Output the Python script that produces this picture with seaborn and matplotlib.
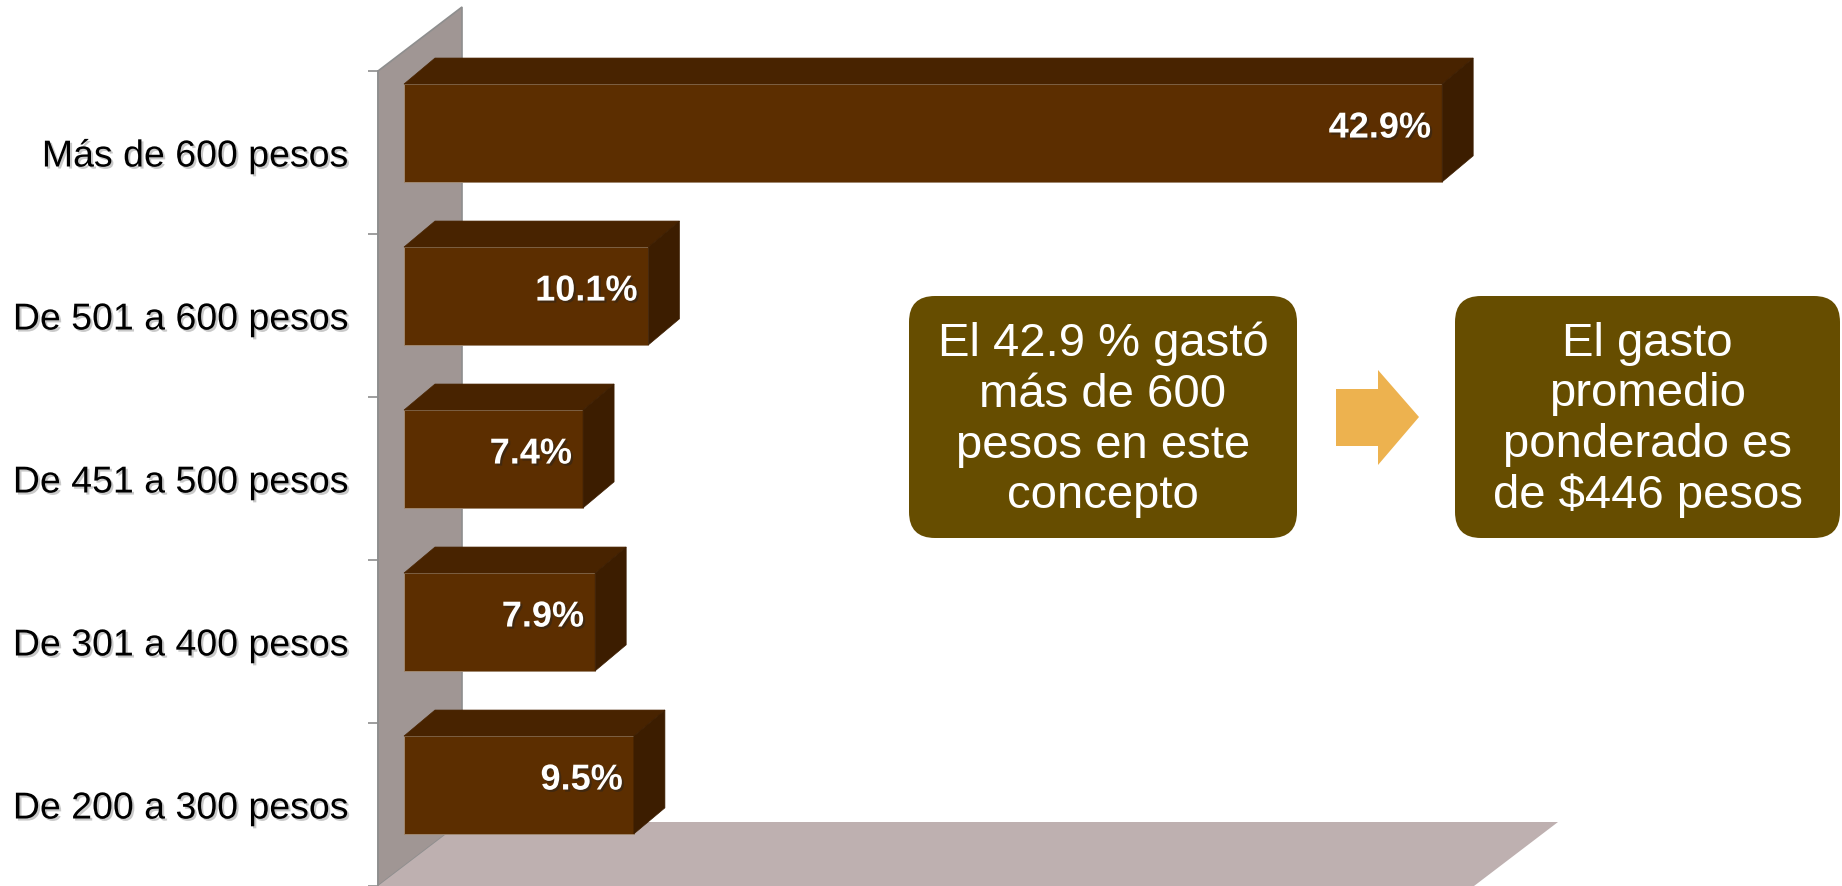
"""Gasto en este concepto: distribución por rango (barras 3D estilo Excel)."""
import matplotlib

matplotlib.use("Agg")
import matplotlib.patheffects as pe
import matplotlib.pyplot as plt
import numpy as np
import seaborn as sns
from matplotlib.patches import FancyBboxPatch, Polygon

categories = [
    "Más de 600 pesos",
    "De 501 a 600 pesos",
    "De 451 a 500 pesos",
    "De 301 a 400 pesos",
    "De 200 a 300 pesos",
]
values = [42.9, 10.1, 7.4, 7.9, 9.5]
value_labels = [f"{v:.1f}%" for v in values]

box_left_lines = ["El 42.9 % gastó", "más de 600", "pesos en este", "concepto"]
box_right_lines = ["El gasto", "promedio", "ponderado es", "de $446 pesos"]

FRONT = "#5C2E00"
TOP = "#482300"
SIDE = "#3C1D00"
WALL = "#A09694"
FLOOR = "#BEB0B0"
BOX = "#664D00"
ARROW = "#EDB24F"

W, H = 1842, 886
PX_PER_PCT = 24.2      # horizontal scale of the bars
PX_PER_CAT = 163.0     # vertical spacing of categories
DX, DY = 31 / PX_PER_PCT, 26 / PX_PER_CAT        # bar depth
WDX, WDY = 84 / PX_PER_PCT, 64 / PX_PER_CAT      # wall / floor depth
SHIFT = 0.12           # wall front plane vs. bar front plane

sns.set_theme(style="white")
plt.rcParams["font.family"] = ["Liberation Sans", "DejaVu Sans"]

fig = plt.figure(figsize=(W / 100, H / 100), dpi=100)
fig.patch.set_facecolor("white")

# axes: left edge = wall front edge, top = first tick
ax_left, ax_top = 378, 71
ax = fig.add_axes([ax_left / W, 0, 1 - ax_left / W, 1 - ax_top / H])
ax.set_facecolor("none")

sns.barplot(x=values, y=categories, orient="h", color=FRONT, saturation=1,
            width=0.6, edgecolor="#A08870", linewidth=0.7, ax=ax, zorder=3)

n = len(categories)
x0 = -(404 - ax_left) / PX_PER_PCT
x1 = x0 + (W - ax_left) / PX_PER_PCT
y_top = -0.5 + SHIFT
y_bot = y_top + (H - ax_top) / PX_PER_CAT
ax.set_xlim(x0, x1)
ax.set_ylim(y_bot, y_top)

# 3D faces of each bar
for bar in list(ax.patches):
    bx, by = bar.get_x(), bar.get_y()
    bw, bh = bar.get_width(), bar.get_height()
    top = [(bx, by), (bx + DX, by - DY), (bx + bw + DX, by - DY), (bx + bw, by)]
    side = [(bx + bw, by), (bx + bw + DX, by - DY),
            (bx + bw + DX, by + bh - DY), (bx + bw, by + bh)]
    ax.add_patch(Polygon(top, closed=True, facecolor=TOP, edgecolor=TOP,
                         linewidth=0.5, zorder=3, clip_on=False))
    ax.add_patch(Polygon(side, closed=True, facecolor=SIDE, edgecolor=SIDE,
                         linewidth=0.5, zorder=3, clip_on=False))

# back wall and floor
floor_front_right = (1474 - 404) / PX_PER_PCT
wall = [(x0, y_top), (x0 + WDX, y_top - WDY), (x0 + WDX, y_bot - WDY), (x0, y_bot)]
floor = [(x0, y_bot), (x0 + WDX, y_bot - WDY),
         (floor_front_right + WDX, y_bot - WDY), (floor_front_right, y_bot)]
ax.add_patch(Polygon(wall, closed=True, facecolor=WALL, edgecolor="#8E8E8E",
                     linewidth=1.2, zorder=1, clip_on=False))
ax.add_patch(Polygon(floor, closed=True, facecolor=FLOOR, edgecolor="none",
                     zorder=1, clip_on=False))

# value labels
shadow = [pe.SimplePatchShadow(offset=(1.5, -1.5), shadow_rgbFace="#222222", alpha=0.45),
          pe.Normal()]
for i, (v, lab) in enumerate(zip(values, value_labels)):
    ax.text(v - 0.45, i - 0.03, lab, ha="right", va="center", color="white",
            fontsize=26, fontweight="bold", zorder=5, path_effects=shadow)

# axis styling: ticks at boundaries, labels centred between them
for s in ["top", "right", "bottom"]:
    ax.spines[s].set_visible(False)
ax.spines["left"].set_color("#8E8E8E")
ax.spines["left"].set_linewidth(1.2)
ax.set_xticks([])
ax.set_yticks(np.arange(n + 1) - 0.5 + SHIFT)
ax.set_yticklabels([])
ax.set_yticks(np.arange(n) + SHIFT, minor=True)
ax.set_yticklabels(categories, minor=True)
ax.tick_params(axis="y", which="major", left=True, length=7.5, width=1.2,
               color="#8E8E8E", direction="out")
ax.tick_params(axis="y", which="minor", left=True, length=0, pad=21,
               labelsize=27, labelcolor="black")
label_shadow = [pe.SimplePatchShadow(offset=(1.5, -1.5), shadow_rgbFace="#888888",
                                     alpha=0.45), pe.Normal()]
for t in ax.get_yticklabels(minor=True):
    t.set_path_effects(label_shadow)
ax.set_xlabel("")
ax.set_ylabel("")

# overlay: conclusion boxes and arrow (pixel coordinates)
ov = fig.add_axes([0, 0, 1, 1], zorder=10)
ov.set_xlim(0, W)
ov.set_ylim(H, 0)
ov.set_axis_off()
ov.patch.set_alpha(0)

for (bx, bw, lines) in [(909, 388, box_left_lines), (1455, 385, box_right_lines)]:
    ov.add_patch(FancyBboxPatch((bx, 296), bw, 242,
                                boxstyle="round,pad=0,rounding_size=26",
                                facecolor=BOX, edgecolor="none"))
    ov.text(bx + bw / 2, 420, "\n".join(lines), ha="center", va="center",
            color="white", fontsize=34, linespacing=1.2, multialignment="center")

arrow = [(1336, 389), (1378, 389), (1378, 370), (1419, 417),
         (1378, 465), (1378, 446), (1336, 446)]
ov.add_patch(Polygon(arrow, closed=True, facecolor=ARROW, edgecolor="none"))

fig.savefig("out.png", dpi=100, facecolor="white")
